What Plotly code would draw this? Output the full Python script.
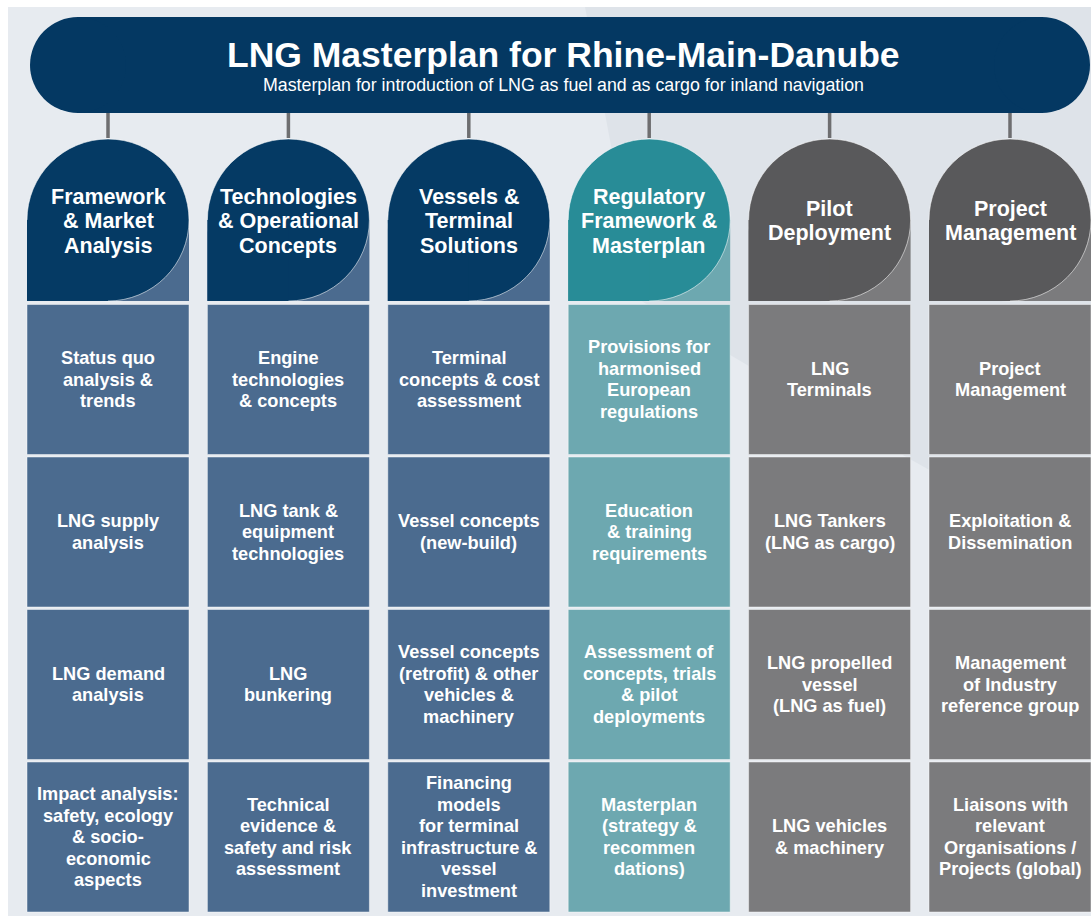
import plotly.graph_objects as go

# ---------------- content ----------------
title = "LNG Masterplan for Rhine-Main-Danube"
subtitle = "Masterplan for introduction of LNG as fuel and as cargo for inland navigation"

column_heads = [
    ["Framework", "& Market", "Analysis"],
    ["Technologies", "& Operational", "Concepts"],
    ["Vessels &", "Terminal", "Solutions"],
    ["Regulatory", "Framework &", "Masterplan"],
    ["Pilot", "Deployment"],
    ["Project", "Management"],
]

framework_items = [
    ["Status quo", "analysis &", "trends"],
    ["LNG supply", "analysis"],
    ["LNG demand", "analysis"],
    ["Impact analysis:", "safety, ecology", "& socio-", "economic", "aspects"],
]
technology_items = [
    ["Engine", "technologies", "& concepts"],
    ["LNG tank &", "equipment", "technologies"],
    ["LNG", "bunkering"],
    ["Technical", "evidence &", "safety and risk", "assessment"],
]
vessel_items = [
    ["Terminal", "concepts & cost", "assessment"],
    ["Vessel concepts", "(new-build)"],
    ["Vessel concepts", "(retrofit) & other", "vehicles &", "machinery"],
    ["Financing", "models", "for terminal", "infrastructure &", "vessel", "investment"],
]
regulatory_items = [
    ["Provisions for", "harmonised", "European", "regulations"],
    ["Education", "& training", "requirements"],
    ["Assessment of", "concepts, trials", "& pilot", "deployments"],
    ["Masterplan", "(strategy &", "recommen", "dations)"],
]
pilot_items = [
    ["LNG", "Terminals"],
    ["LNG Tankers", "(LNG as cargo)"],
    ["LNG propelled", "vessel", "(LNG as fuel)"],
    ["LNG vehicles", "& machinery"],
]
management_items = [
    ["Project", "Management"],
    ["Exploitation &", "Dissemination"],
    ["Management", "of Industry", "reference group"],
    ["Liaisons with", "relevant", "Organisations /", "Projects (global)"],
]
column_items = [framework_items, technology_items, vessel_items,
                regulatory_items, pilot_items, management_items]

# ---------------- styles ----------------
W, H = 1091, 916
BG = "#E7EBF0"
BG_DARK = "#DEE3E9"
NAVY = "#043862"
head_colors = ["#053A64", "#053A64", "#053A64", "#288C97", "#59595B", "#59595B"]
cell_colors = ["#4B6B8F", "#4B6B8F", "#4B6B8F", "#6DA8B0", "#7B7B7D", "#7B7B7D"]
FONT = "Liberation Sans, Arial, sans-serif"

col_x0, col_step, col_w = 27, 180.4, 162
r = col_w / 2
head_top = 139
head_cy = head_top + r
row_top0, row_step, row_h = 304.5, 152.5, 150

shapes = []
annotations = []

# background panel with a faint darker swoosh on the right
shapes.append(dict(type="rect", x0=8, x1=W, y0=7, y1=H, fillcolor=BG, line_width=0, layer="below"))
shapes.append(dict(type="path", path="M 585 7 L 1091 7 L 1091 560 Q 800 400 640 300 Z",
                   fillcolor=BG_DARK, line_width=0, layer="below"))

# header pill
hx0, hx1, hy0, hy1 = 30, 1090, 17, 113
hr = (hy1 - hy0) / 2
shapes.append(dict(type="rect", x0=hx0 + hr, x1=hx1 - hr, y0=hy0, y1=hy1, fillcolor=NAVY, line_width=0))
shapes.append(dict(type="circle", x0=hx0, x1=hx0 + 2 * hr, y0=hy0, y1=hy1, fillcolor=NAVY, line_width=0))
shapes.append(dict(type="circle", x0=hx1 - 2 * hr, x1=hx1, y0=hy0, y1=hy1, fillcolor=NAVY, line_width=0))

annotations.append(dict(x=563, y=55, text=title, showarrow=False, xanchor="center", yanchor="middle",
                        font=dict(family=FONT, size=35.5, color="white", weight="bold")))
annotations.append(dict(x=563, y=85, text=subtitle, showarrow=False, xanchor="center", yanchor="middle",
                        font=dict(family=FONT, size=17.8, color="white")))

for i, (head, items) in enumerate(zip(column_heads, column_items)):
    x0 = col_x0 + i * col_step
    x1 = x0 + col_w
    cx = x0 + r
    hc, cc = head_colors[i], cell_colors[i]

    # connector
    shapes.append(dict(type="line", x0=cx, x1=cx, y0=hy1, y1=head_top - 1,
                       line=dict(color="#6E6E70", width=3.5)))
    # dome head
    shapes.append(dict(type="rect", x0=x0, x1=x1, y0=head_cy, y1=head_cy + r, fillcolor=cc, line_width=0))
    shapes.append(dict(type="circle", x0=x0, x1=x1, y0=head_top, y1=head_top + 2 * r, fillcolor=hc,
                       line=dict(color="rgba(255,255,255,0.55)", width=1)))
    shapes.append(dict(type="rect", x0=x0, x1=cx, y0=head_cy, y1=head_cy + r, fillcolor=hc, line_width=0))

    n = len(head)
    for k, line in enumerate(head):
        annotations.append(dict(x=cx, y=head_cy + 1 + (k - (n - 1) / 2) * 24.5, text=line, showarrow=False,
                                xanchor="center", yanchor="middle",
                                font=dict(family=FONT, size=21.5, color="white", weight="bold")))

    # cells
    for j, lines in enumerate(items):
        y0 = row_top0 + j * row_step
        y1 = y0 + row_h
        shapes.append(dict(type="rect", x0=x0, x1=x1, y0=y0, y1=y1, fillcolor=cc,
                           line=dict(color="rgba(255,255,255,0.45)", width=1)))
        cy = (y0 + y1) / 2
        m = len(lines)
        for k, line in enumerate(lines):
            annotations.append(dict(x=cx, y=cy + (k - (m - 1) / 2) * 21.5, text=line, showarrow=False,
                                    xanchor="center", yanchor="middle",
                                    font=dict(family=FONT, size=18.2, color="white", weight="bold")))

fig = go.Figure()
fig.update_layout(
    width=W, height=H,
    margin=dict(l=0, r=0, t=0, b=0),
    paper_bgcolor="white", plot_bgcolor="white",
    xaxis=dict(range=[0, W], visible=False, fixedrange=True),
    yaxis=dict(range=[H, 0], visible=False, fixedrange=True),
    shapes=shapes, annotations=annotations, showlegend=False,
)
fig.write_html("out.html", config={"displayModeBar": False},
               post_script="document.body.style.margin='0';document.body.style.overflow='hidden';")
